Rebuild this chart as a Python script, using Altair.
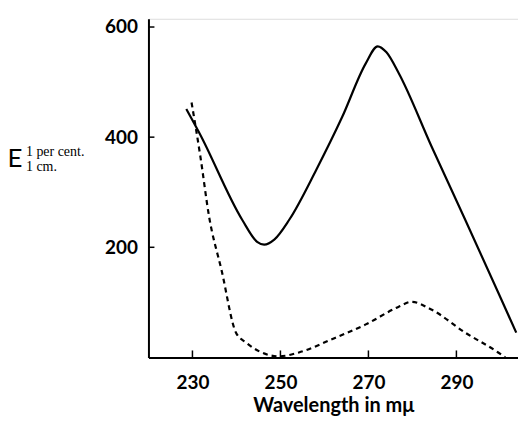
import altair as alt
import pandas as pd

# Solid curve (wavelength in m-mu, E 1% 1cm)
solid_x = [228.6, 231.6, 241.3, 244.7, 246.3, 248.6, 252.0, 258.1, 264.0, 269.4, 272.1, 274.1, 276.9, 284.3, 292.0, 299.5, 303.6]
solid_y = [451, 407, 250, 210, 205, 214, 250, 340, 436, 534, 565, 554, 516, 384, 250, 118, 45]

# Dashed curve
dash_x = [229.8, 231.8, 233.8, 236.6, 239.9, 242.2, 245.2, 249.7, 254.2, 261.7, 269.4, 276.9, 279.8, 284.3, 292.0, 299.5, 301.1]
dash_y = [463, 365, 255, 159, 45, 27, 11, 2, 9, 33, 60, 92, 101, 87, 45, 9, 0]

x_ticks = [230, 250, 270, 290]
y_ticks = [200, 400, 600]

X_DOMAIN = [220, 304]
Y_DOMAIN = [0, 615]

solid_df = pd.DataFrame({"wl": solid_x, "E": solid_y})
dash_df = pd.DataFrame({"wl": dash_x, "E": dash_y})
xt_df = pd.DataFrame({"wl": x_ticks})
yt_df = pd.DataFrame({"E": y_ticks})

xscale = alt.Scale(domain=X_DOMAIN, nice=False, zero=False)
yscale = alt.Scale(domain=Y_DOMAIN, nice=False, zero=False)

FONT = "Lato"

xaxis = alt.Axis(values=x_ticks, title="Wavelength in mμ", grid=False, ticks=False,
                 domainColor="black", domainWidth=2, labelFont=FONT, labelFontWeight="bold",
                 labelFontSize=19, labelColor="black", labelPadding=16,
                 titleFont=FONT, titleFontWeight="bold", titleFontSize=20, titleColor="black",
                 titlePadding=3)
yaxis = alt.Axis(values=y_ticks, title=None, grid=False, ticks=False,
                 domainColor="black", domainWidth=2, labelFont=FONT, labelFontWeight="bold",
                 labelFontSize=19, labelColor="black", labelPadding=11)

solid = alt.Chart(solid_df).mark_line(color="black", strokeWidth=2.2, interpolate="monotone").encode(
    x=alt.X("wl:Q", scale=xscale, axis=xaxis),
    y=alt.Y("E:Q", scale=yscale, axis=yaxis),
)

dashed = alt.Chart(dash_df).mark_line(color="black", strokeWidth=2.2, strokeDash=[5, 4],
                                      interpolate="monotone").encode(
    x=alt.X("wl:Q", scale=xscale),
    y=alt.Y("E:Q", scale=yscale),
)

xticks = alt.Chart(xt_df).mark_rule(color="black", strokeWidth=1.5).encode(
    x=alt.X("wl:Q", scale=xscale),
    y=alt.value(340),
    y2=alt.value(333),
)

yticks = alt.Chart(yt_df).mark_rule(color="black", strokeWidth=1.5).encode(
    y=alt.Y("E:Q", scale=yscale),
    x=alt.value(0),
    x2=alt.value(6),
)

label_df = pd.DataFrame({"t": ["E"]})
e_text = alt.Chart(label_df).mark_text(font=FONT, fontSize=26, align="center", baseline="alphabetic",
                                        color="black").encode(
    x=alt.value(-134), y=alt.value(149), text="t:N")
sup_text = alt.Chart(pd.DataFrame({"t": ["1 per cent."]})).mark_text(
    font="Liberation Serif", fontSize=14, align="left", baseline="alphabetic", color="black").encode(
    x=alt.value(-123), y=alt.value(138), text="t:N")
sub_text = alt.Chart(pd.DataFrame({"t": ["1 cm."]})).mark_text(
    font="Liberation Serif", fontSize=14, align="left", baseline="alphabetic", color="black").encode(
    x=alt.value(-123), y=alt.value(153), text="t:N")

chart = alt.layer(solid, dashed, xticks, yticks, e_text, sup_text, sub_text).properties(
    width=371, height=340,
    autosize=alt.AutoSizeParams(type="none"),
    padding={"left": 141, "top": 10, "right": 0, "bottom": 58},
).configure_view(stroke=None).configure(background="white")

chart.save("out.html", embed_options={"renderer": "svg", "actions": False})
